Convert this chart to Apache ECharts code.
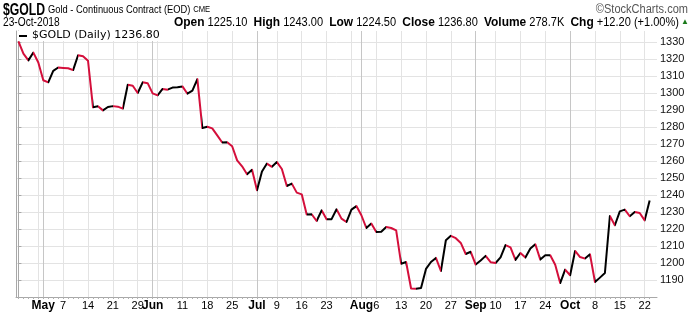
<!DOCTYPE html>
<html><head><meta charset="utf-8">
<script src="https://cdn.jsdelivr.net/npm/echarts@6/dist/echarts.min.js"></script>
<style>html,body{margin:0;padding:0;background:#fff}#c{width:700px;height:312px}</style>
</head><body><div id="c"></div>
<script>
const dates = [
'2018-04-24','2018-04-25','2018-04-26','2018-04-27','2018-04-30',
'2018-05-01','2018-05-02','2018-05-03','2018-05-04','2018-05-07','2018-05-08','2018-05-09','2018-05-10','2018-05-11',
'2018-05-14','2018-05-15','2018-05-16','2018-05-17','2018-05-18','2018-05-21','2018-05-22','2018-05-23','2018-05-24','2018-05-25',
'2018-05-29','2018-05-30','2018-05-31','2018-06-01','2018-06-04','2018-06-05','2018-06-06','2018-06-07','2018-06-08',
'2018-06-11','2018-06-12','2018-06-13','2018-06-14','2018-06-15','2018-06-18','2018-06-19','2018-06-20','2018-06-21','2018-06-22',
'2018-06-25','2018-06-26','2018-06-27','2018-06-28','2018-06-29','2018-07-02','2018-07-03','2018-07-05','2018-07-06',
'2018-07-09','2018-07-10','2018-07-11','2018-07-12','2018-07-13','2018-07-16','2018-07-17','2018-07-18','2018-07-19','2018-07-20',
'2018-07-23','2018-07-24','2018-07-25','2018-07-26','2018-07-27','2018-07-30','2018-07-31','2018-08-01','2018-08-02','2018-08-03',
'2018-08-06','2018-08-07','2018-08-08','2018-08-09','2018-08-10','2018-08-13','2018-08-14','2018-08-15','2018-08-16','2018-08-17',
'2018-08-20','2018-08-21','2018-08-22','2018-08-23','2018-08-24','2018-08-27','2018-08-28','2018-08-29','2018-08-30','2018-08-31',
'2018-09-04','2018-09-05','2018-09-06','2018-09-07','2018-09-10','2018-09-11','2018-09-12','2018-09-13','2018-09-14',
'2018-09-17','2018-09-18','2018-09-19','2018-09-20','2018-09-21','2018-09-24','2018-09-25','2018-09-26','2018-09-27','2018-09-28',
'2018-10-01','2018-10-02','2018-10-03','2018-10-04','2018-10-05','2018-10-08','2018-10-09','2018-10-10','2018-10-11','2018-10-12',
'2018-10-15','2018-10-16','2018-10-17','2018-10-18','2018-10-19','2018-10-22','2018-10-23'
];
const closes = [
1330.4,1323.2,1319.2,1323.8,1318.0,
1307.5,1306.3,1313.0,1315.0,1314.8,1314.6,1313.5,1322.2,1321.6,
1319.0,1291.6,1292.2,1289.8,1291.8,1292.3,1292.0,1290.8,1304.9,1304.3,
1300.0,1306.3,1305.8,1299.8,1298.6,1302.4,1302.0,1303.2,1303.4,
1303.9,1299.6,1301.4,1308.2,1279.4,1280.2,1279.2,1275.1,1270.9,1271.1,
1268.7,1260.4,1256.9,1252.2,1254.9,1242.8,1253.8,1258.5,1256.6,
1259.4,1255.3,1245.3,1246.7,1241.4,1240.4,1228.5,1228.7,1224.7,1231.0,
1225.7,1225.8,1231.6,1226.1,1224.1,1231.4,1233.5,1228.1,1220.6,1223.2,
1218.2,1218.4,1221.2,1220.6,1219.2,1199.6,1200.6,1185.0,1184.8,1185.3,
1196.5,1200.6,1203.0,1195.3,1213.4,1216.0,1214.6,1211.8,1205.3,1206.6,
1199.1,1201.5,1204.2,1200.5,1200.0,1203.3,1210.5,1209.2,1201.8,
1205.9,1203.2,1208.5,1211.0,1202.0,1204.5,1204.6,1199.0,1188.2,1196.1,
1192.8,1207.1,1203.5,1202.6,1205.1,1188.8,1191.4,1194.1,1227.6,1222.2,
1230.4,1231.4,1227.5,1230.0,1229.4,1225.1,1236.8
];
const weekGridDates = ['2018-04-30','2018-05-07','2018-05-14','2018-05-21','2018-05-29','2018-06-04','2018-06-11','2018-06-18','2018-06-25',
'2018-07-09','2018-07-16','2018-07-23','2018-07-30','2018-08-06','2018-08-13','2018-08-20','2018-08-27',
'2018-09-10','2018-09-17','2018-09-24','2018-10-08','2018-10-15','2018-10-22'];
const monthGridDates = ['2018-05-01','2018-06-01','2018-07-02','2018-08-01','2018-09-04','2018-10-01'];
const xTickDates = ['2018-05-01','2018-05-07','2018-05-14','2018-05-21','2018-05-29','2018-06-01','2018-06-11','2018-06-18','2018-06-25',
'2018-07-02','2018-07-09','2018-07-16','2018-07-23','2018-08-01','2018-08-06','2018-08-13','2018-08-20','2018-08-27',
'2018-09-04','2018-09-10','2018-09-17','2018-09-24','2018-10-01','2018-10-08','2018-10-15','2018-10-22'];
const xTickLabels = ['May','7','14','21','29','Jun','11','18','25','Jul','9','16','23','Aug','6','13','20','27','Sep','10','17','24','Oct','8','15','22'];

const UP = '#000000', DOWN = '#d40f3b';
const idx = d => dates.indexOf(d);
const points = closes.map((v, i) => [i, v]);
const pieces = [];
for (let i = 1; i < closes.length; i++) {
  const p = {gte: i - 1, color: closes[i] >= closes[i - 1] ? UP : DOWN};
  if (i === closes.length - 1) p.lte = i; else p.lt = i;
  pieces.push(p);
}
const labelPos = xTickDates.map(idx);
const FONT = '"Liberation Sans", Arial, sans-serif';

const chart = echarts.init(document.getElementById('c'), null, {renderer: 'canvas'});
chart.setOption({
  animation: false,
  backgroundColor: '#fff',
  grid: {left: 16, right: 43, top: 31, bottom: 15, containLabel: false},
  xAxis: {
    type: 'value', min: -0.49, max: 128.48,
    axisLine: {show: true, lineStyle: {color: '#a8a8a8'}},
    axisTick: {show: true, customValues: dates.map((d, i) => i), length: 2, lineStyle: {color: '#b0b0b0'}},
    axisLabel: {
      customValues: labelPos, margin: 3, fontFamily: FONT, fontSize: 11, color: '#000',
      formatter: v => {
        const t = xTickLabels[labelPos.indexOf(Math.round(v))];
        if (t === undefined) return '';
        return /^\d+$/.test(t) ? t : '{m|' + t + '}';
      },
      rich: {m: {fontFamily: FONT, fontWeight: 'bold', fontSize: 12, color: '#000'}}
    },
    splitLine: {show: false}
  },
  yAxis: [{
    type: 'value', position: 'right', min: 1180, max: 1336.5, interval: 10,
    axisLine: {show: true, lineStyle: {color: '#a8a8a8'}},
    axisTick: {show: true, length: 3, lineStyle: {color: '#a8a8a8'}},
    axisLabel: {showMinLabel: false, showMaxLabel: false, margin: 3, fontFamily: FONT, fontSize: 11, color: '#111',
      formatter: v => String(Math.round(v))},
    splitLine: {show: true, showMinLine: false, showMaxLine: false, lineStyle: {color: '#e3e3e3'}}
  }, {
    type: 'value', position: 'left', min: 1180, max: 1336.5, interval: 10,
    axisLine: {show: true, lineStyle: {color: '#a8a8a8'}},
    axisTick: {show: false}, axisLabel: {show: false}, splitLine: {show: false}
  }],
  visualMap: {type: 'piecewise', show: false, dimension: 0, seriesIndex: 0, pieces: pieces, outOfRange: {color: UP}},
  series: [{
    type: 'line', data: points, symbol: 'none', showSymbol: false, z: 5,
    lineStyle: {width: 2, join: 'round'}
  }, {
    type: 'line', data: points, symbol: 'none', showSymbol: false, z: 1, silent: true,
    lineStyle: {opacity: 0},
    markLine: {
      silent: true, symbol: ['none', 'none'], label: {show: false}, animation: false,
      data: weekGridDates.map(d => ({xAxis: idx(d), lineStyle: {color: '#e3e3e3', width: 1, type: 'solid'}}))
        .concat(monthGridDates.map(d => ({xAxis: idx(d), lineStyle: {color: '#c6c6c6', width: 1, type: 'solid'}})))
    }
  }],
  graphic: [
    {type: 'text', z: 100, x: 3, y: 2, scaleX: 0.72, style: {text: '$GOLD', font: 'bold 17px ' + FONT, fill: '#000'}},
    {type: 'text', z: 100, x: 48, y: 4, scaleX: 0.85, style: {
      text: '{a|Gold - Continuous Contract (EOD)} {b|CME}',
      rich: {a: {font: '11px ' + FONT, fill: '#000'}, b: {font: '9px ' + FONT, fill: '#000'}}
    }},
    {type: 'text', z: 100, x: 688, y: 4, scaleX: 0.92, style: {text: '\u00a9StockCharts.com', font: '12px ' + FONT, fill: '#555', align: 'right'}},
    {type: 'text', z: 100, x: 3, y: 17, scaleX: 0.85, style: {text: '23-Oct-2018', font: '12px ' + FONT, fill: '#000'}},
    {type: 'text', z: 100, x: 679, y: 16, scaleX: 0.92, style: {
      align: 'right',
      text: '{l|Open} {v|1225.10}  {l|High} {v|1243.00}  {l|Low} {v|1224.50}  {l|Close} {v|1236.80}  {l|Volume} {v|278.7K}  {l|Chg} {v|+12.20 (+1.00%)}',
      rich: {l: {font: 'bold 13px ' + FONT, fill: '#000'}, v: {font: '12px ' + FONT, fill: '#000'}}
    }},
    {type: 'text', z: 100, x: 681, y: 18, style: {text: '\u25b2', font: '8px ' + FONT, fill: '#1a7a1a'}},
    {type: 'rect', z: 100, shape: {x: 17, y: 31, width: 150, height: 10}, style: {fill: '#fff'}},
    {type: 'rect', z: 101, shape: {x: 19, y: 35, width: 8, height: 2}, style: {fill: '#000'}},
    {type: 'text', z: 101, x: 32, y: 30, style: {text: '$GOLD (Daily) 1236.80', font: '11px "DejaVu Sans", Verdana, sans-serif', fill: '#000'}}
  ]
});
</script></body></html>
